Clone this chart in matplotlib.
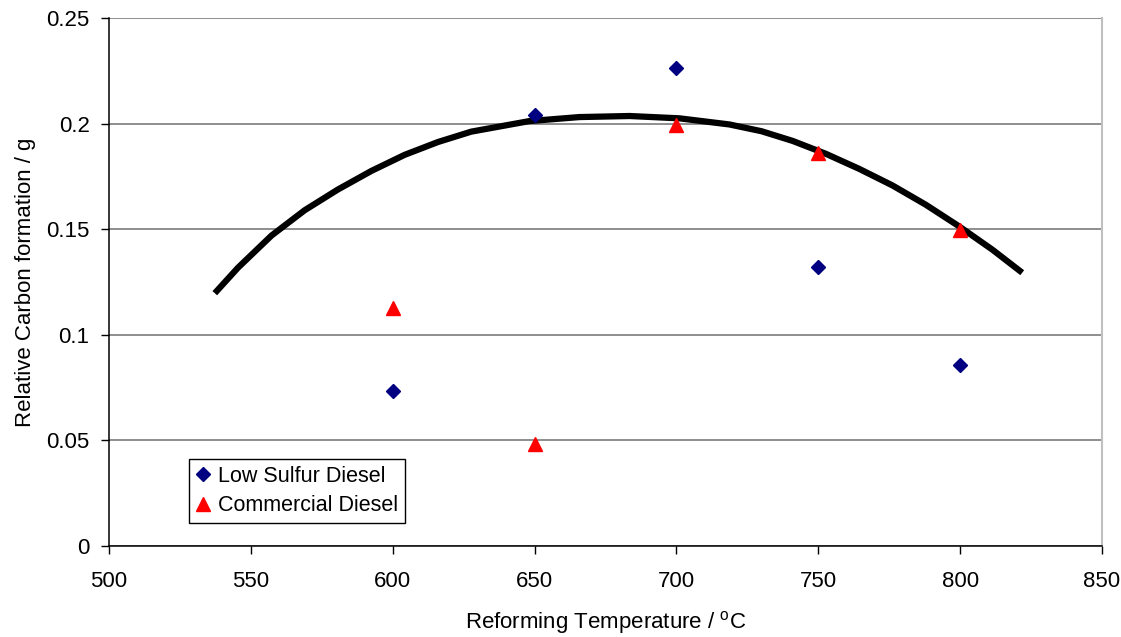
import matplotlib.pyplot as plt

# reforming temperatures (C)
temps = [600, 650, 700, 750, 800]
low_sulfur = [0.0734, 0.204, 0.2263, 0.132, 0.0857]
commercial = [0.1127, 0.0483, 0.1993, 0.186, 0.1496]

# trend line, points
trend_x = [537.3, 545.5, 557.3, 569.0, 580.7, 592.5, 604.2, 616.0, 627.7,
           648.2, 665.8, 683.5, 701.1, 718.7, 730.0, 741.0, 752.7, 764.4,
           776.2, 787.9, 799.6, 811.4, 821.9]
trend_y = [0.1197, 0.1318, 0.1470, 0.1590, 0.1688, 0.1776, 0.1852, 0.1913,
           0.1962, 0.2012, 0.2031, 0.2036, 0.2025, 0.1996, 0.1964, 0.1918,
           0.1857, 0.1786, 0.1707, 0.1616, 0.1514, 0.1403, 0.1294]

xticks = [500, 550, 600, 650, 700, 750, 800, 850]
yticks = [0, 0.05, 0.1, 0.15, 0.2, 0.25]
ytick_labels = ["0", "0.05", "0.1", "0.15", "0.2", "0.25"]

plt.rcParams["font.family"] = ["Liberation Sans", "DejaVu Sans"]

fig = plt.figure(figsize=(11.21, 6.37), dpi=100)
ax = fig.add_axes([0.0972, 0.1429, 0.8858, 0.8288])

ax.set_xlim(500, 850)
ax.set_ylim(0, 0.25)
ax.set_yticks(yticks)
ax.set_yticklabels(ytick_labels)
ax.set_xticks(xticks)

ax.grid(axis="y", color="#707070", linewidth=1.1)
ax.set_axisbelow(True)

ax.plot(trend_x, trend_y, color="black", linewidth=4.5, solid_capstyle="butt",
        solid_joinstyle="round", zorder=2)
ax.plot(temps, low_sulfur, linestyle="none", marker="D", markersize=7.5,
        color="#000080", label="Low Sulfur Diesel", zorder=3)
ax.plot(temps, commercial, linestyle="none", marker="^", markersize=9.5,
        color="#ff0000", label="Commercial Diesel", zorder=3)

ax.spines["top"].set_visible(False)
ax.spines["right"].set_color("#c0c0c0")
ax.spines["right"].set_linewidth(1.5)
ax.spines["left"].set_linewidth(1.1)
ax.spines["bottom"].set_linewidth(1.1)

ax.tick_params(axis="both", direction="out", length=6, width=1,
               labelsize=16)
ax.tick_params(axis="y", pad=8)
ax.tick_params(axis="x", pad=12)

ax.set_xlabel("Reforming Temperature / $\\mathregular{^{o}}$C", fontsize=16,
              labelpad=12)
ax.set_ylabel("Relative Carbon formation / g", fontsize=16, labelpad=7)

leg = ax.legend(loc="lower left", bbox_to_anchor=(0.0806, 0.0436),
                borderaxespad=0, fancybox=False, framealpha=1,
                edgecolor="black", fontsize=15.5, handlelength=0.7,
                handletextpad=0.35, borderpad=0.3, labelspacing=0.4)
leg.get_frame().set_linewidth(1)

fig.savefig("out.png", dpi=100)
